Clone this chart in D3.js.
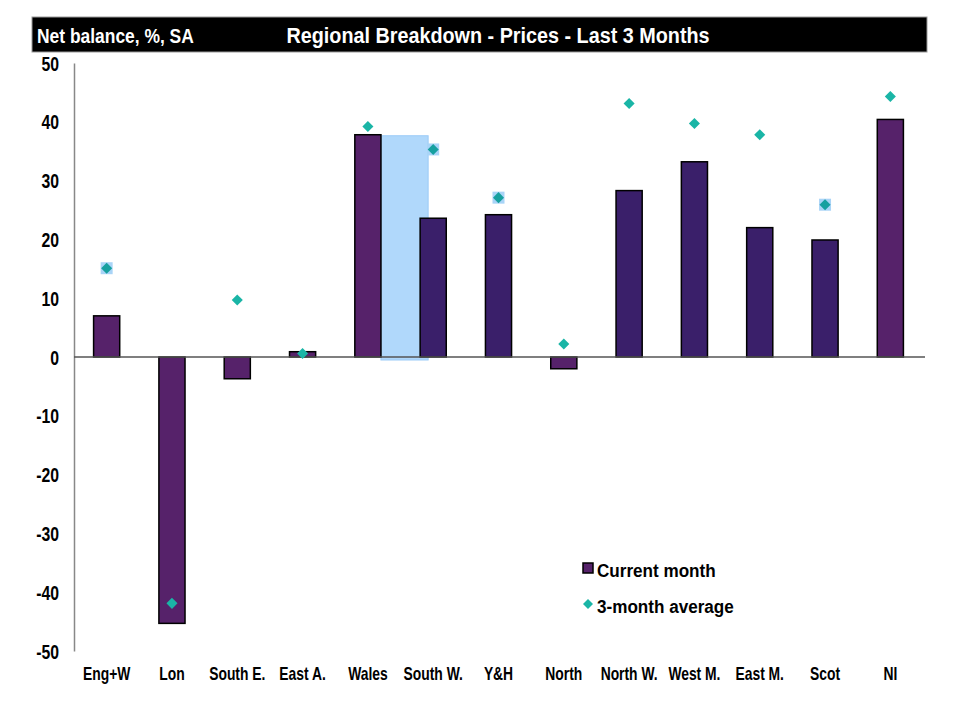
<!DOCTYPE html>
<html><head><meta charset="utf-8">
<script src="https://cdn.jsdelivr.net/npm/d3@7"></script>
<style>
body{margin:0;background:#fff;}
svg{display:block;font-family:"Liberation Sans Narrow","Arial Narrow","Liberation Sans",Arial,sans-serif;font-weight:bold;}
</style></head>
<body><svg id="c" width="960" height="707"></svg>
<script>
const categories = ["Eng+W","Lon","South E.","East A.","Wales","South W.","Y&H","North","North W.","West M.","East M.","Scot","NI"];
const currentMonth = [7.0,-45.3,-3.7,0.9,37.8,23.6,24.2,-2.0,28.3,33.2,22.0,19.9,40.4];
const threeMonthAvg = [15.1,-41.9,9.7,0.6,39.2,35.3,27.1,2.2,43.1,39.7,37.8,25.9,44.3];
const yTicks = [50,40,30,20,10,0,-10,-20,-30,-40,-50];
const darkCategories = ["South W.","Y&H","North W.","West M.","East M.","Scot"];
const shadowCategories = ["Eng+W","South W.","Y&H","Scot"];

const svg = d3.select("#c");
const m = {left:74, right:923, top:63, bottom:651};
const x = d3.scaleBand().domain(categories).range([m.left, m.right]).paddingInner(0.6).paddingOuter(0.3);
const y = d3.scaleLinear().domain([-50,50]).range([m.bottom, m.top]);

// narrow text helper: horizontally compressed bold text
function ntext(parent, tx, ty, str, size, anchor, fill, sx){
  const g = parent.append("g").attr("transform",`translate(${tx},${ty}) scale(${sx||0.87},1)`);
  g.append("text").attr("x",0).attr("y",0).attr("font-size",size)
    .attr("text-anchor",anchor||"start").attr("fill",fill||"#000").text(str);
  return g;
}

// header bar
svg.append("rect").attr("x",32).attr("y",17).attr("width",895).attr("height",35)
  .attr("fill","#000").attr("stroke","#999").attr("stroke-width",1);
ntext(svg,37,43,"Net balance, %, SA",21,"start","#fff",0.83);
ntext(svg,498,43,"Regional Breakdown - Prices - Last 3 Months",22,"middle","#fff",0.9);

// light blue highlight artifact between Wales and South W.
const wIdx = categories.indexOf("Wales");
svg.append("rect")
  .attr("x", x("Wales")+x.bandwidth())
  .attr("y", y(currentMonth[wIdx]) + 1)
  .attr("width", x("South W.") + 8 - (x("Wales")+x.bandwidth()))
  .attr("height", y(0) - y(currentMonth[wIdx]) + 2)
  .attr("fill","#b0d8fb").attr("stroke","#9ccbf7");

// y axis
const yAxis = d3.axisLeft(y).tickValues(yTicks).tickSize(0).tickFormat(()=>"");
const ya = svg.append("g").attr("transform",`translate(${m.left},0)`).call(yAxis);
ya.select(".domain").attr("stroke","#888").attr("stroke-width",1.5);
yTicks.forEach(t=>{
  ntext(svg,59,y(t)+7.5,String(t),19.5,"end","#000",0.81);
});

// bars
svg.append("g").selectAll("rect").data(categories).join("rect")
  .attr("x", d=>x(d))
  .attr("y", (d,i)=>y(Math.max(0,currentMonth[i])))
  .attr("width", x.bandwidth())
  .attr("height", (d,i)=>Math.abs(y(currentMonth[i])-y(0)))
  .attr("fill", d=>darkCategories.includes(d) ? "#3a1f6a" : "#56226a")
  .attr("stroke","#000").attr("stroke-width",1.5);

// zero line
svg.append("line").attr("x1",m.left).attr("x2",m.right+2).attr("y1",y(0)).attr("y2",y(0))
  .attr("stroke","#555").attr("stroke-width",1.5);

// x labels
categories.forEach(c=>{
  ntext(svg,x(c)+x.bandwidth()/2,680,c,18,"middle","#000",0.77);
});

// diamond shadows
svg.append("g").selectAll("rect").data(categories.filter(d=>shadowCategories.includes(d))).join("rect")
  .attr("x", d=>x(d)+x.bandwidth()/2-6)
  .attr("y", d=>y(threeMonthAvg[categories.indexOf(d)])-6)
  .attr("width",12).attr("height",12).attr("fill","#a9d4f7");

// diamonds
const diamond = d3.symbol().type(d3.symbolDiamond2).size(78);
svg.append("g").selectAll("path").data(categories).join("path")
  .attr("transform",(d,i)=>`translate(${x(d)+x.bandwidth()/2},${y(threeMonthAvg[i])})`)
  .attr("d", diamond)
  .attr("fill", d=>shadowCategories.includes(d) ? "#17a0a0" : "#1ab5a6");

// legend
const lg = svg.append("g");
lg.append("rect").attr("x",583).attr("y",563).attr("width",10).attr("height",10)
  .attr("fill","#56226a").attr("stroke","#000").attr("stroke-width",1.5);
ntext(lg,597,577,"Current month",19,"start","#000",0.9);
lg.append("path").attr("transform","translate(588,604)").attr("d",d3.symbol().type(d3.symbolDiamond2).size(64)).attr("fill","#1ab5a6");
ntext(lg,597,613,"3-month average",19,"start","#000",0.9);
</script></body></html>
